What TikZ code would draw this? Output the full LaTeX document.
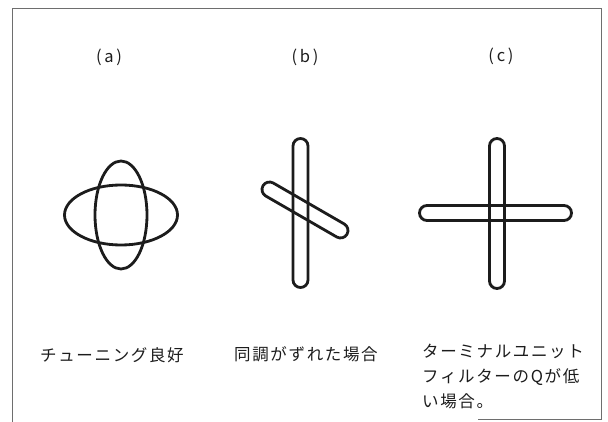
\documentclass[tikz,border=0pt]{standalone}
\usepackage{fontspec}
\setmainfont{Noto Sans CJK JP}
\newfontfamily\jpfont[LetterSpace=10]{Noto Sans CJK JP}
\usetikzlibrary{positioning}
\definecolor{figink}{HTML}{1C1C1C}
\definecolor{figframe}{HTML}{6E6E6E}
\tikzset{
  ring/.style={draw=figink, line width=2.8pt},
  pill/.style={ring, rectangle, rounded corners=7.5pt, minimum width=15pt, inner sep=0pt},
  headtag/.style={font=\fontsize{16.5}{18}\selectfont\jpfont, text=figink, inner sep=0pt},
  captxt/.style={font=\fontsize{16.5}{25}\selectfont\jpfont, text=figink, align=left, inner sep=0pt, anchor=north west},
  boxline/.style={draw=figframe, line width=0.8pt},
}
\begin{document}
\begin{tikzpicture}[x=1pt, y=-1pt]
  \useasboundingbox (0,0) rectangle (608,422);
  % frame
  \coordinate (tl) at (12,8);
  \coordinate (tr) at (601,8);
  \coordinate (br) at (601,419);
  \coordinate (bl) at (12,422);
  \coordinate (bm) at (478,419);
  \draw[boxline] (bl) -- (tl) -- (tr) -- (br) -- (bm);
  % headings
  \node[headtag] (ta) at (109,57) {(\,a\,)};
  \node[headtag] (tb) at (305,57) {(\,b\,)};
  \node[headtag] (tc) at (501,56) {(\,c\,)};
  % (a) two crossed ellipses
  \coordinate (ca) at (121,215);
  \draw[ring] (ca) ellipse [x radius=56.5pt, y radius=30pt];
  \draw[ring] (ca) ellipse [x radius=26pt, y radius=54pt];
  % (b) tilted pill over upright pill
  \node[pill, minimum height=149pt] (bv) at (300.5,213) {};
  \node[pill, minimum height=97pt, rotate=60] (bd) at (305,210) {};
  % (c) thin cross
  \node[pill, minimum height=150pt] (cv) at (497,213.5) {};
  \node[pill, minimum height=152pt, rotate=90] (ch) at (495.5,213) {};
  % captions
  \node[captxt] (la) at (40,347) {チューニング良好};
  \node[captxt] (lb) at (234,346) {同調がずれた場合};
  \node[captxt] (lc) at (422,344) {ターミナルユニット\\フィルターのQが低\\い場合。};
\end{tikzpicture}
\end{document}
